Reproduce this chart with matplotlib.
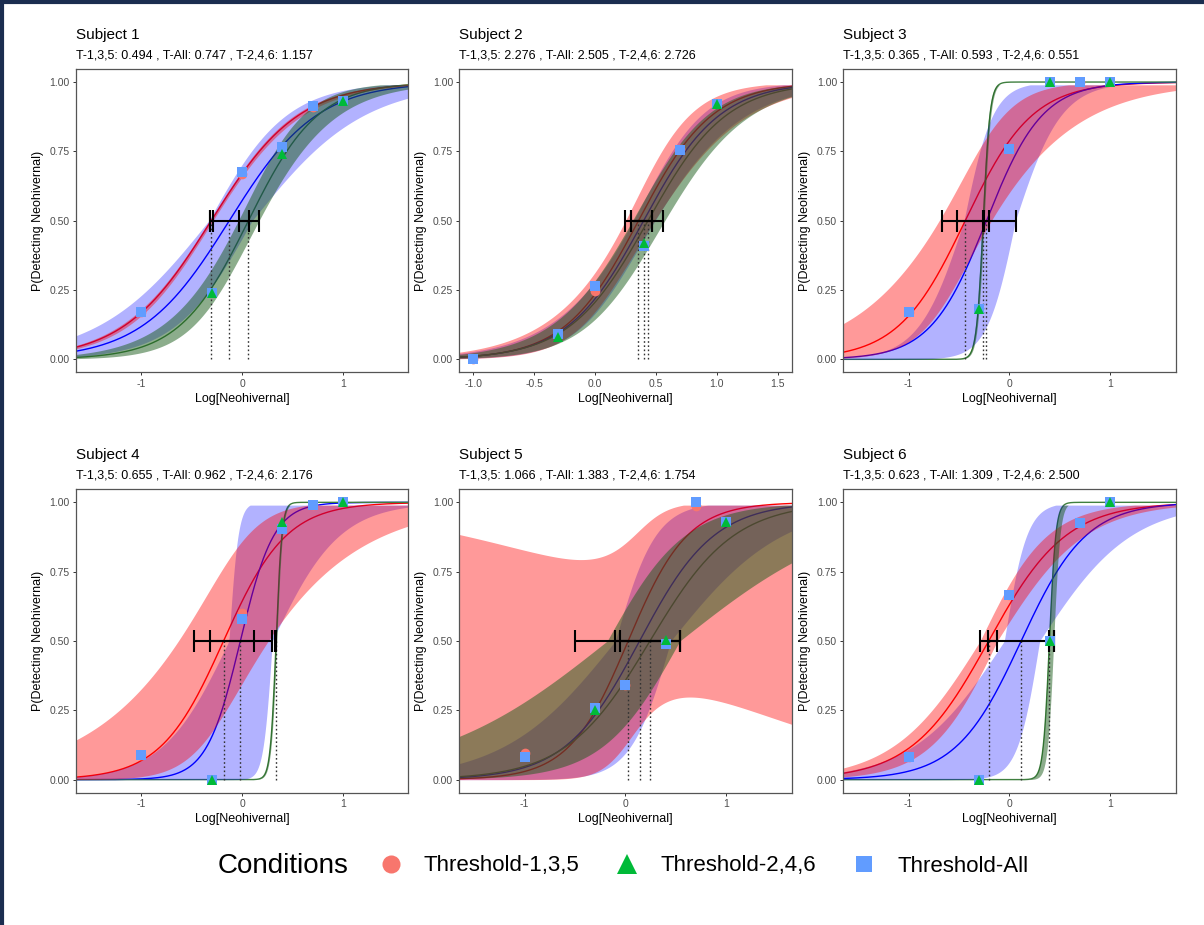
import numpy as np
import matplotlib
matplotlib.use("Agg")
import matplotlib.pyplot as plt
from matplotlib.lines import Line2D

plt.rcParams['font.family'] = ['Liberation Sans', 'DejaVu Sans']
plt.rcParams['axes.unicode_minus'] = False

# ---- data -------------------------------------------------------------
subjects = [1, 2, 3, 4, 5, 6]

# 50% thresholds (linear units) shown in the subtitles
t135 = [0.494, 2.276, 0.365, 0.655, 1.066, 0.623]
t_all = [0.747, 2.505, 0.593, 0.962, 1.383, 1.309]
t246 = [1.157, 2.726, 0.551, 2.176, 1.754, 2.500]

# fitted logistic slopes (per log10 unit)
k135 = [2.3, 3.3, 3.0, 3.2, 3.4, 2.6]
k_all = [2.3, 3.2, 3.6, 6.0, 2.7, 3.1]
k246 = [2.9, 3.1, 30.0, 35.0, 2.4, 32.0]

# threshold confidence intervals (log10 units)
ci135 = [(-0.317, -0.29), (0.25, 0.466), (-0.67, -0.20),
         (-0.48, 0.116), (-0.50, 0.54), (-0.293, -0.122)]
ci_all = [(-0.317, 0.07), (0.296, 0.47), (-0.515, 0.062),
          (-0.32, 0.297), (-0.106, 0.54), (-0.211, 0.44)]
ci246 = [(-0.03, 0.17), (0.296, 0.561), (-0.26, -0.25),
         (0.33, 0.34), (-0.056, 0.54), (0.39, 0.44)]

# ribbon specs: (t_lo, t_hi, k_lo, k_hi, se_a, se_b, se_c)
band135 = [(-0.306, -0.306, 2.3, 2.3, 0.04, 0.10, -0.30),
           (0.357, 0.357, 3.3, 3.3, 0.35, 0.90, 0.20),
           (-0.438, -0.438, 3.0, 3.0, 0.70, 1.30, -0.44),
           (-0.184, -0.184, 3.2, 3.2, 1.18, 1.80, -0.18),
           (0.028, 0.028, 3.4, 3.4, 1.80, 4.30, 0.10),
           (-0.29, -0.12, 2.3, 3.0, 0.0, 0.0, 0.0)]
band_all = [(-0.33, 0.10, 1.8, 2.6, 0.0, 0.0, 0.0),
            (0.399, 0.399, 3.2, 3.2, 0.27, 0.70, 0.30),
            (-0.45, 0.06, 4.4, 7.0, 0.0, 0.0, 0.0),
            (-0.13, 0.30, 3.0, 22.0, 0.0, 0.0, 0.0),
            (-0.10, 0.45, 1.8, 5.0, 0.0, 0.0, 0.0),
            (-0.05, 0.30, 2.2, 9.0, 0.0, 0.0, 0.0)]
band246 = [(0.063, 0.063, 2.9, 2.9, 0.29, 0.55, 0.0),
           (0.436, 0.436, 3.1, 3.1, 0.40, 0.50, 0.30),
           (-0.27, -0.25, 30.0, 30.0, 0.0, 0.0, 0.0),
           (0.33, 0.345, 35.0, 35.0, 0.0, 0.0, 0.0),
           (-0.18, 0.54, 1.15, 2.6, 0.0, 0.0, 0.0),
           (0.39, 0.44, 32.0, 32.0, 0.0, 0.0, 0.0)]

# observed proportions
lev135 = [-1.0, 0.0, 0.7]
lev246 = [-0.3, 0.4, 1.0]
lev_all = [-1.0, -0.3, 0.0, 0.4, 0.7, 1.0]
p135 = [[0.17, 0.67, 0.91], [0.0, 0.245, 0.76], [0.17, 0.76, 1.0],
        [0.09, 0.60, 0.99], [0.095, 0.34, 0.985], [0.08, 0.665, 0.925]]
p246 = [[0.24, 0.74, 0.93], [0.08, 0.42, 0.92], [0.18, 1.0, 1.0],
        [0.0, 0.93, 1.0], [0.25, 0.505, 0.93], [0.0, 0.50, 1.0]]
p_all = [[0.17, 0.24, 0.675, 0.765, 0.915, 0.93],
         [0.0, 0.093, 0.264, 0.41, 0.755, 0.92],
         [0.17, 0.18, 0.76, 1.0, 1.0, 1.0],
         [0.09, 0.0, 0.58, 0.905, 0.99, 1.0],
         [0.08, 0.26, 0.34, 0.49, 1.0, 0.93],
         [0.08, 0.0, 0.665, 0.50, 0.925, 1.0]]

xlims = [(-1.647, 1.65), (-1.115, 1.616), (-1.647, 1.65),
         (-1.647, 1.65), (-1.647, 1.65), (-1.647, 1.65)]


def logistic(z):
    return 1.0 / (1.0 + np.exp(-z))


def ribbon(x, spec):
    t_lo, t_hi, k_lo, k_hi, a, b, c = spec
    se = np.sqrt(a ** 2 + (b * (x - c)) ** 2)
    eta = [k * (x - t) for t in (t_lo, t_hi) for k in (k_lo, k_hi)]
    lo = logistic(np.min(eta, axis=0) - se)
    hi = logistic(np.max(eta, axis=0) + se)
    return np.clip(lo, 0, 0.99), np.clip(hi, 0, 0.99)


# condition styles
FILL = {'135': ('#FF0000', 0.40), 'all': ('#0000FF', 0.30), '246': ('#1A5C1A', 0.50)}
LINE = {'135': '#FF0000', 'all': '#0000FF', '246': '#3F7F3F'}
PT = {'135': ('o', '#F8766D', 7.0), 'all': ('s', '#619CFF', 6.8), '246': ('^', '#00BA38', 7.5)}

W, H = 1204, 925
col_left = [76, 459.3, 843.3]
row_top = [69, 489.3]
ax_w, ax_h = 332.4, 303.4

fig = plt.figure(figsize=(W / 100, H / 100), dpi=100)

for i, subj in enumerate(subjects):
    r, c = divmod(i, 3)
    ax = fig.add_axes([col_left[c] / W, 1 - (row_top[r] + ax_h) / H, ax_w / W, ax_h / H])
    x = np.linspace(xlims[i][0], xlims[i][1], 400)

    conds = {
        '135': (np.log10(t135[i]), k135[i], ci135[i], band135[i], lev135, p135[i]),
        'all': (np.log10(t_all[i]), k_all[i], ci_all[i], band_all[i], lev_all, p_all[i]),
        '246': (np.log10(t246[i]), k246[i], ci246[i], band246[i], lev246, p246[i]),
    }

    # fitted curves (ribbons are laid over them)
    for key in ['135', 'all', '246']:
        t, k = conds[key][0], conds[key][1]
        ax.plot(x, logistic(k * (x - t)), color=LINE[key], lw=1.0, zorder=1)

    # ribbons
    for key in ['all', '135', '246']:
        lo, hi = ribbon(x, conds[key][3])
        col, alpha = FILL[key]
        ax.fill_between(x, lo, hi, color=col, alpha=alpha, lw=0, zorder=2)

    # threshold markers + CIs
    for key in ['135', 'all', '246']:
        t, (lo, hi) = conds[key][0], conds[key][2]
        ax.plot([t, t], [0, 0.5], color='#333333', lw=1.0, ls=(0, (1.2, 1.8)), zorder=3)
        ax.errorbar(t, 0.5, xerr=[[t - lo], [hi - t]], fmt='none', ecolor='black',
                    elinewidth=1.5, capsize=8, capthick=1.5, zorder=4)

    # observed points
    for key in ['135', 'all', '246']:
        mk, col, ms = PT[key]
        ax.plot(conds[key][4], conds[key][5], ls='', marker=mk, color=col,
                markersize=ms, markeredgewidth=0, zorder=5)

    ax.set_xlim(*xlims[i])
    ax.set_ylim(-0.047, 1.047)
    ax.set_yticks([0, 0.25, 0.5, 0.75, 1.0])
    ax.set_yticklabels(['0.00', '0.25', '0.50', '0.75', '1.00'])
    if subj == 2:
        xt = [-1.0, -0.5, 0.0, 0.5, 1.0, 1.5]
        ax.set_xticks(xt)
        ax.set_xticklabels([f'{v:.1f}' for v in xt])
    else:
        ax.set_xticks([-1, 0, 1])
        ax.set_xticklabels(['-1', '0', '1'])
    ax.tick_params(direction='out', length=2.5, width=0.7, colors='#333333',
                   labelsize=7.5, labelcolor='#4D4D4D', pad=2)
    for sp in ax.spines.values():
        sp.set_color('#555555')
        sp.set_linewidth(0.9)

    ax.set_xlabel('Log[Neohivernal]', fontsize=9, labelpad=3)
    ax.set_ylabel('P(Detecting Neohivernal)', fontsize=9, labelpad=4)

    ax.annotate(f'Subject {subj}', xy=(0, 1), xycoords='axes fraction',
                xytext=(0, 24.5), textcoords='offset points',
                ha='left', va='center', fontsize=11)
    sub = f'T-1,3,5: {t135[i]:.3f} , T-All: {t_all[i]:.3f} , T-2,4,6: {t246[i]:.3f}'
    ax.annotate(sub, xy=(0, 1), xycoords='axes fraction',
                xytext=(0, 10), textcoords='offset points',
                ha='left', va='center', fontsize=9)

# legend along the bottom
fig.text(218 / W, 1 - 866 / H, 'Conditions', fontsize=20, ha='left', va='center')
handles = [Line2D([], [], ls='', marker='o', color='#F8766D', markersize=13, markeredgewidth=0),
           Line2D([], [], ls='', marker='^', color='#00BA38', markersize=15, markeredgewidth=0),
           Line2D([], [], ls='', marker='s', color='#619CFF', markersize=12, markeredgewidth=0)]
fig.legend(handles, ['Threshold-1,3,5', 'Threshold-2,4,6', 'Threshold-All'],
           loc='center', bbox_to_anchor=(704 / W, 1 - 866 / H), ncol=3,
           frameon=False, fontsize=16, handlelength=1.0, handletextpad=1.0,
           columnspacing=1.65)

# frame on the left and top edges
fig.add_artist(Line2D([0.0015, 0.0015], [0, 1], transform=fig.transFigure,
                      color='#1B2D50', lw=3))
fig.add_artist(Line2D([0, 1], [0.998, 0.998], transform=fig.transFigure,
                      color='#1B2D50', lw=3))

fig.savefig('out.png', dpi=100)
